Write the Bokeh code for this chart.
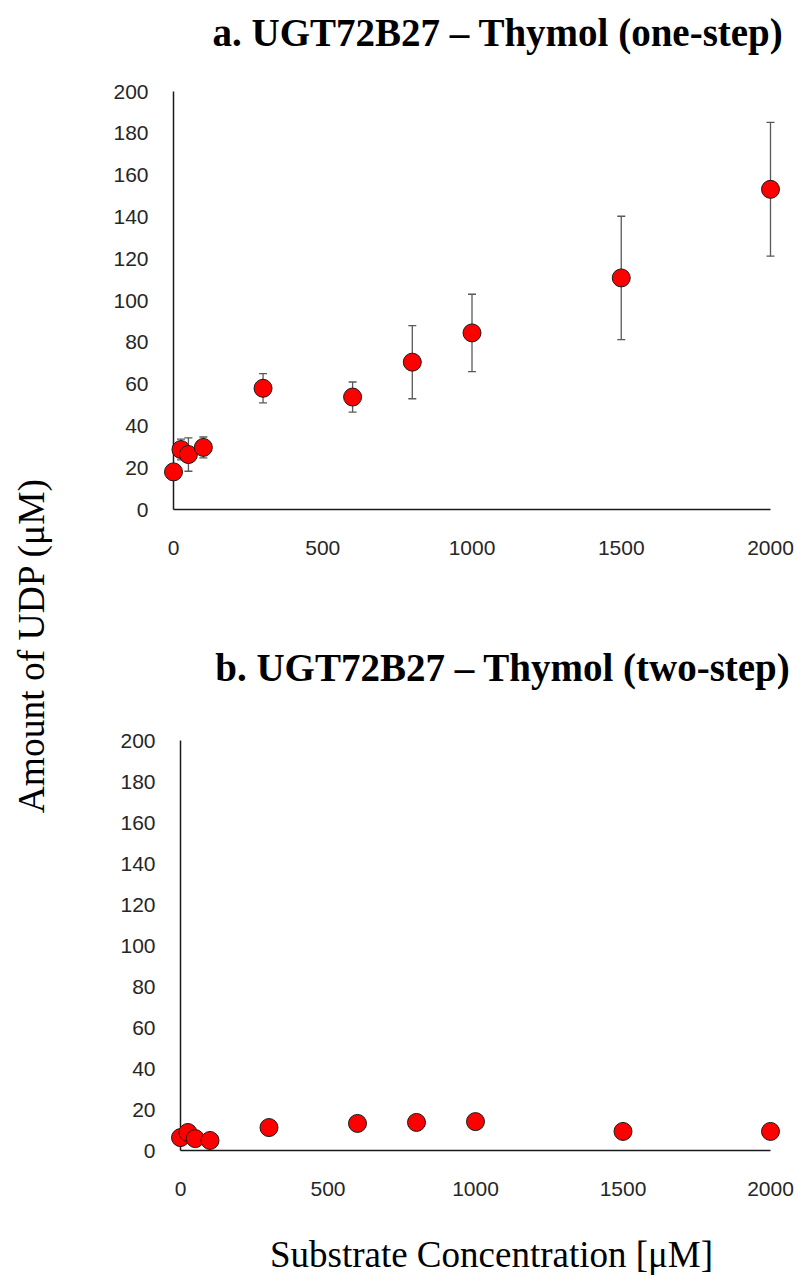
import math
from bokeh.plotting import figure
from bokeh.models import (ColumnDataSource, Range1d, FixedTicker, Whisker, TeeHead, Label, Spacer)
from bokeh.layouts import row, column
from bokeh.embed import file_html
from bokeh.resources import INLINE

# ---------------- data ----------------
conc = [0, 25, 50, 100, 300, 600, 800, 1000, 1500, 2000]
one_step = [18.0, 28.7, 26.3, 29.7, 58.0, 53.8, 70.5, 84.5, 110.8, 153.2]
one_step_err = [1.0, 5.0, 8.0, 5.0, 7.0, 7.2, 17.5, 18.5, 29.5, 32.0]
two_step = [6.3, 8.8, 5.8, 4.9, 11.2, 13.2, 13.7, 14.1, 9.3, 9.3]

x_ticks = [0, 500, 1000, 1500, 2000]
y_ticks = [0, 20, 40, 60, 80, 100, 120, 140, 160, 180, 200]

title_a = "a. UGT72B27 \u2013 Thymol (one-step)"
title_b = "b. UGT72B27 \u2013 Thymol (two-step)"
x_label = "Substrate Concentration [\u03bcM]"
y_label = "Amount of UDP (\u03bcM)"

SERIF = "Liberation Serif"
TICKFONT = "Liberation Sans"
AXIS_COLOR = "#1a1a1a"
TICK_COLOR = "#262626"

LEFT_X = 60          # page x where the column starts
BORDER_L = 113       # left border of every figure in the column
BORDER_R = 9


def clean(f):
    f.grid.visible = False
    f.outline_line_color = None
    f.background_fill_color = "white"
    f.border_fill_color = "white"


def text_fig(y0, y1):
    """Blank figure whose data coordinates equal page pixel coordinates."""
    h = y1 - y0
    f = figure(width=739, height=h,
               x_range=Range1d(LEFT_X + BORDER_L, 799 - BORDER_R),
               y_range=Range1d(y1, y0),
               x_axis_type=None, y_axis_type=None, toolbar_location=None,
               output_backend="svg", min_border_left=BORDER_L,
               min_border_right=BORDER_R, min_border_top=0, min_border_bottom=0)
    clean(f)
    return f


def chart(width, height, border_top, border_bottom, zero_px_frame_w, yvals, err=None):
    s = zero_px_frame_w / 2000.0
    pad_r = 20
    f = figure(width=width, height=height,
               x_range=Range1d(0, 2000 + pad_r / s), y_range=Range1d(0, 200),
               toolbar_location=None, output_backend="svg",
               min_border_left=BORDER_L, min_border_right=BORDER_R,
               min_border_top=border_top, min_border_bottom=border_bottom)
    clean(f)
    for ax in f.xaxis:
        ax.ticker = FixedTicker(ticks=x_ticks)
        ax.bounds = (0, 2000)
        ax.major_label_standoff = 31
    for ax in f.yaxis:
        ax.ticker = FixedTicker(ticks=y_ticks)
        ax.major_label_standoff = 25
    for ax in f.axis:
        ax.axis_line_color = AXIS_COLOR
        ax.axis_line_width = 1.5
        ax.major_tick_line_color = None
        ax.minor_tick_line_color = None
        ax.major_tick_in = 0
        ax.major_tick_out = 0
        ax.major_label_text_font = TICKFONT
        ax.major_label_text_font_size = "21px"
        ax.major_label_text_color = TICK_COLOR
    data = dict(x=conc, y=yvals)
    if err is not None:
        data["upper"] = [v + e for v, e in zip(yvals, err)]
        data["lower"] = [v - e for v, e in zip(yvals, err)]
    src = ColumnDataSource(data)
    if err is not None:
        w = Whisker(source=src, base="x", upper="upper", lower="lower",
                    line_color="#595959", line_width=1.3,
                    upper_head=TeeHead(size=8, line_color="#595959", line_width=1.3),
                    lower_head=TeeHead(size=8, line_color="#595959", line_width=1.3))
        f.add_layout(w)
    f.scatter("x", "y", source=src, size=18, fill_color="#ff0000",
              line_color="#1a1a1a", line_width=1, level="overlay")
    return f


# ---------------- layout pieces ----------------
ylab = figure(width=60, height=1278, x_range=Range1d(0, 60), y_range=Range1d(0, 1278),
              x_axis_type=None, y_axis_type=None, toolbar_location=None,
              output_backend="svg", min_border=0)
clean(ylab)
ylab.add_layout(Label(x=31, y=1278 - 645, text=y_label, angle=math.pi / 2,
                      text_align="center", text_baseline="middle",
                      text_font=SERIF, text_font_size="37.5px", text_color="black"))

ta = text_fig(0, 70)
ta.add_layout(Label(x=783, y=32, text=title_a, text_align="right",
                    text_baseline="middle", text_font=SERIF, text_font_size="39px",
                    text_font_style="bold", text_color="black"))

# top chart: frame left at page x 173, zero..2000 spans 597 px
fig1 = chart(739, 530, 21, 91, 597, one_step, one_step_err)

tb = text_fig(600, 720)
tb.add_layout(Label(x=790, y=667, text=title_b, text_align="right",
                    text_baseline="middle", text_font=SERIF, text_font_size="39px",
                    text_font_style="bold", text_color="black"))

# bottom chart: frame left at page x 180, zero..2000 spans 590 px
fig2 = chart(732, 488, 20, 58, 590, two_step, None)

xl = text_fig(1208, 1278)
xl.add_layout(Label(x=491, y=1254, text=x_label, text_align="center",
                    text_baseline="middle", text_font=SERIF, text_font_size="37px",
                    text_color="black"))

layout = row(ylab,
             column(ta, fig1, tb, row(Spacer(width=7, height=488), fig2, spacing=0), xl,
                    spacing=0),
             spacing=0)

open("out.html", "w").write(file_html(layout, INLINE))
